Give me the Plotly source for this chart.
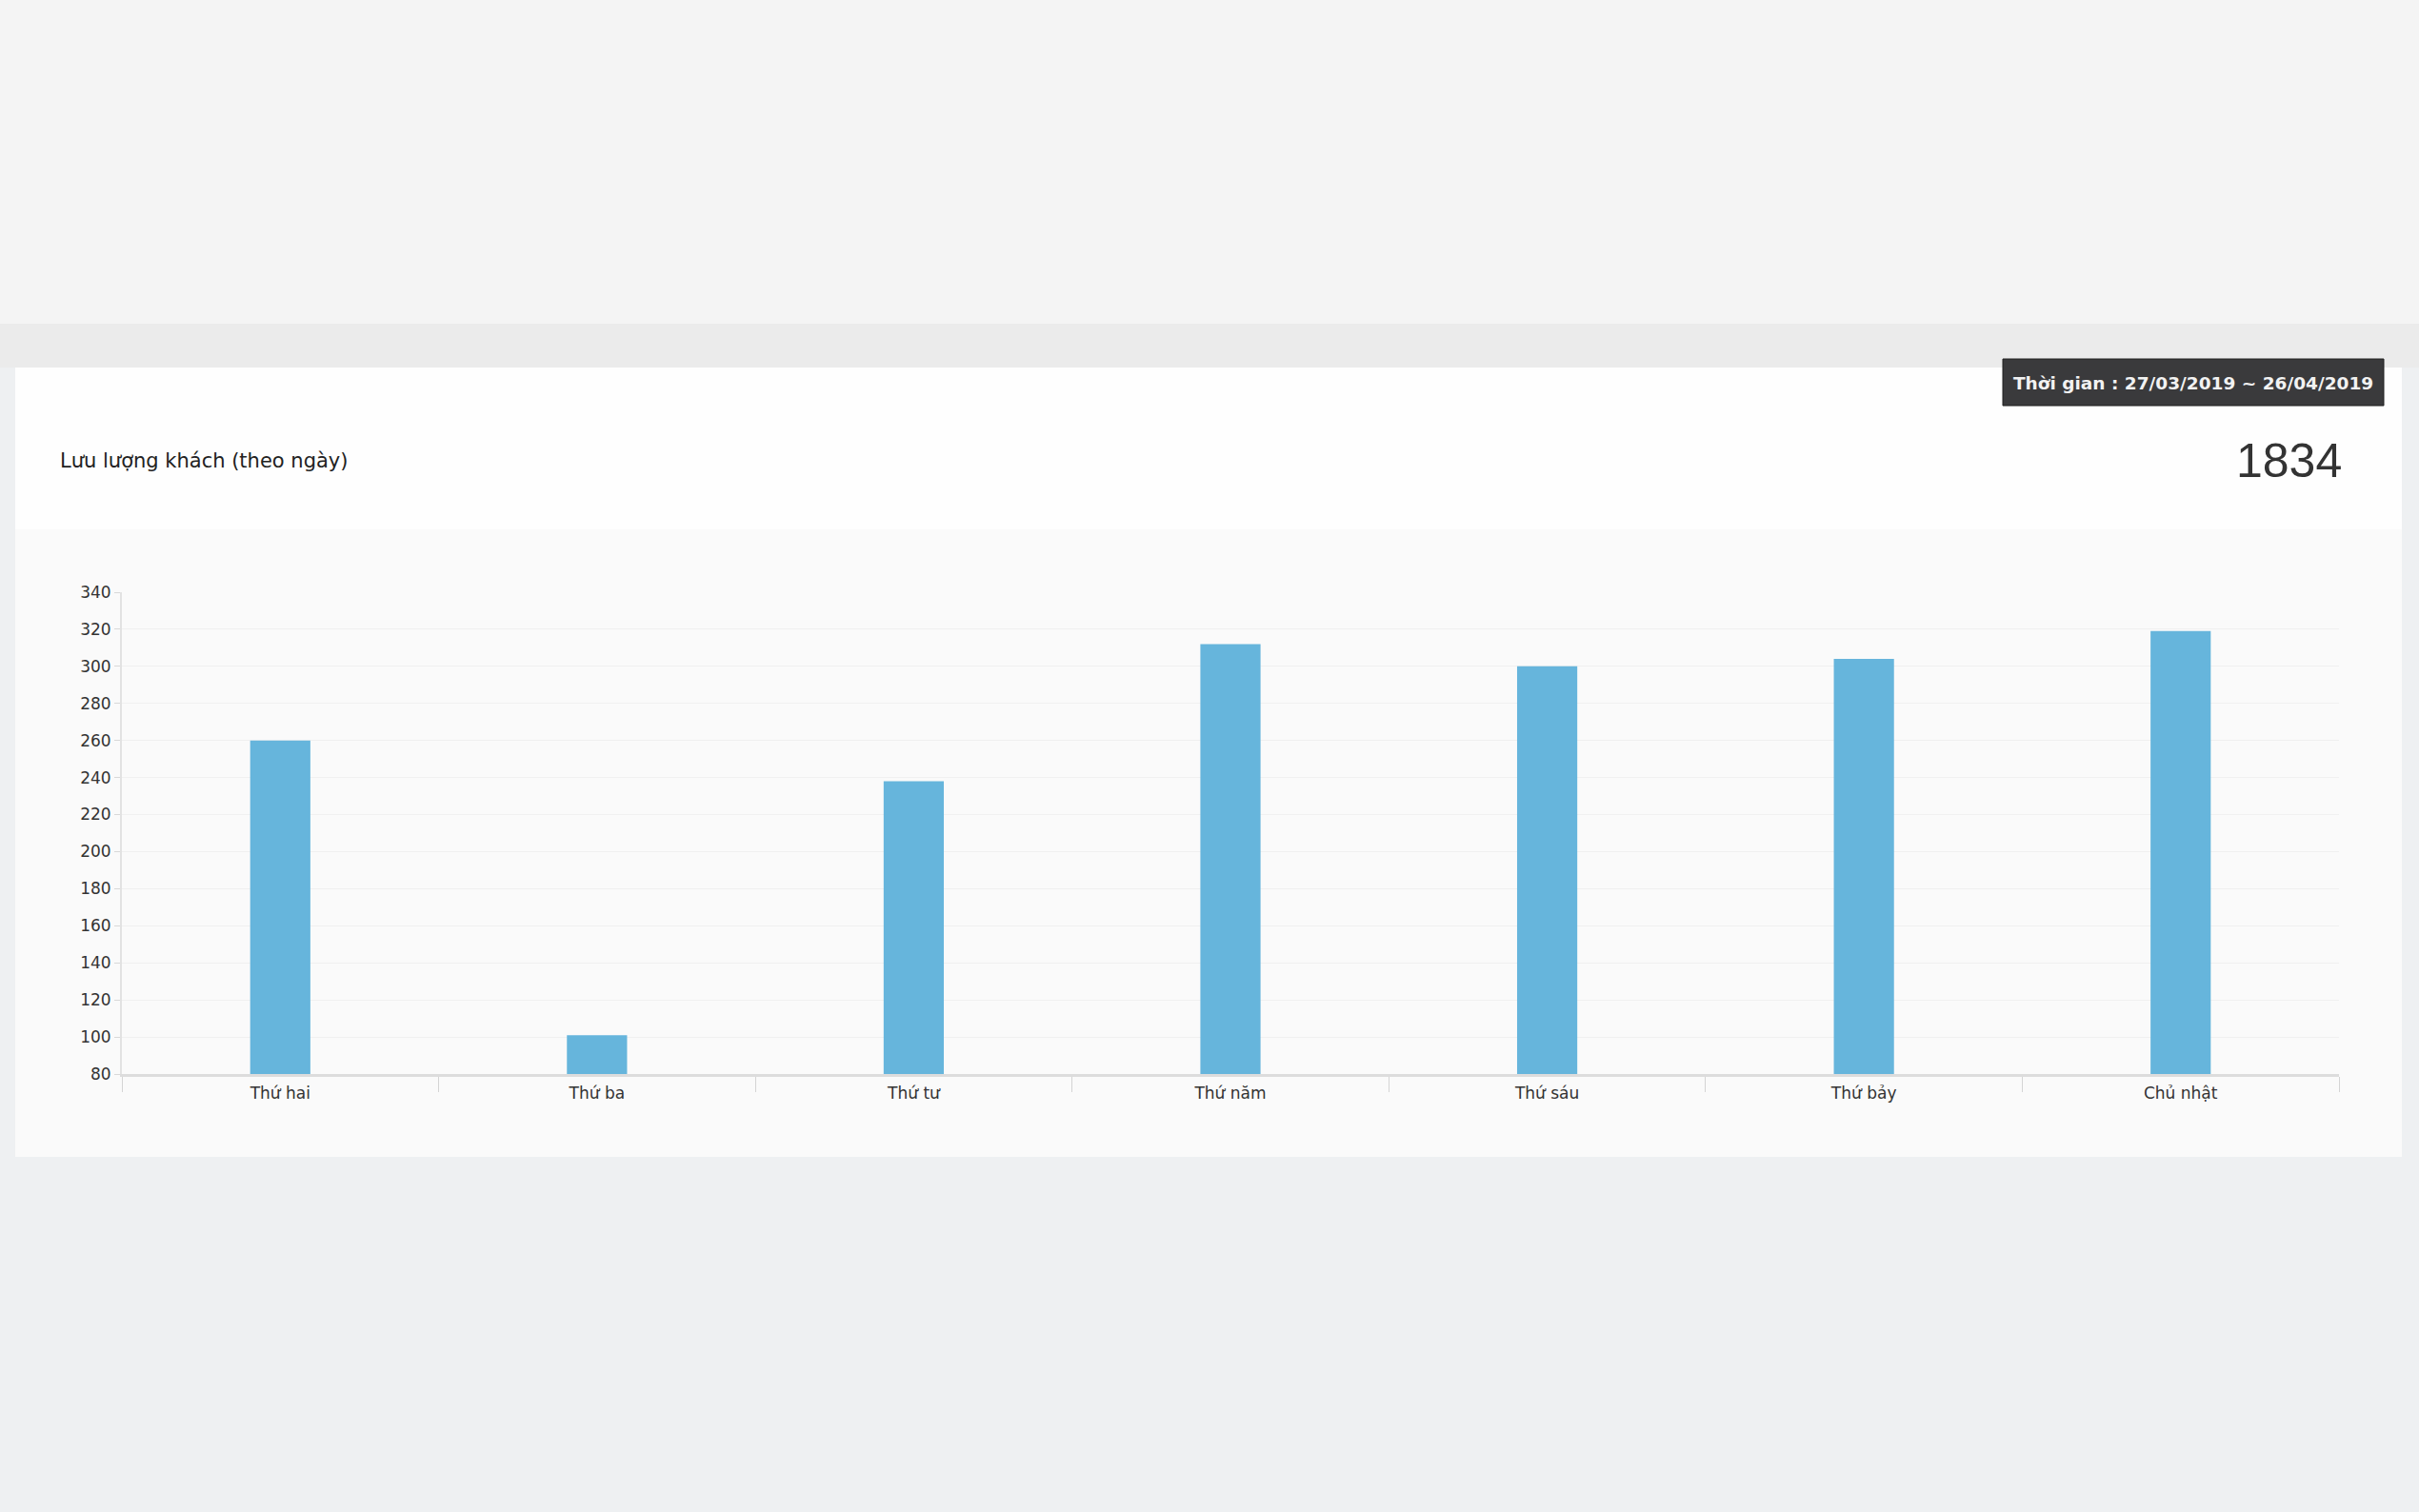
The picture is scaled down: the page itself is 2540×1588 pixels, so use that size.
import plotly.graph_objects as go

# daily visitor flow, by weekday
days = ["Thứ hai", "Thứ ba", "Thứ tư", "Thứ năm", "Thứ sáu", "Thứ bảy", "Chủ nhật"]
visitors = [260, 101, 238, 312, 300, 304, 319]
y_ticks = list(range(80, 341, 20))

title_text = "Lưu lượng khách (theo ngày)"
total_text = "1834"
period_text = "Thời gian : 27/03/2019 ~ 26/04/2019"

W, H = 2540, 1588
L, R, T, B = 128, 84, 622, 460
PW, PH = W - L - R, H - T - B


def px(x):
    return (x - L) / PW


def py(y):
    return 1 - (y - T) / PH


def rect(x0, y0, x1, y1, fill, line=None):
    return dict(type="rect", xref="paper", yref="paper", layer="below",
                x0=px(x0), x1=px(x1), y0=py(y1), y1=py(y0),
                fillcolor=fill, line=dict(width=1 if line else 0, color=line or fill))


fig = go.Figure()
fig.add_trace(go.Bar(x=days, y=visitors, marker=dict(color="#66b5dc", line=dict(width=0)),
                     hoverinfo="x+y"))

shapes = [
    rect(0, 0, W, 340, "#f4f4f4"),
    rect(0, 340, W, 386, "#ebebeb"),
    rect(0, 1215, W, H, "#eef0f2"),
    rect(16, 386, 2522, 556, "#fefefe"),
    rect(16, 556, 2522, 1215, "#fafafa"),
    rect(2103, 377, 2503, 426, "#3a3a3c", "#1e1e1e"),
]

annotations = [
    dict(text=title_text, xref="paper", yref="paper", x=px(61), y=py(484),
         xanchor="left", yanchor="middle", showarrow=False,
         font=dict(family="DejaVu Sans", size=21, color="#222")),
    dict(text=total_text, xref="paper", yref="paper", x=px(2461), y=py(484),
         xanchor="right", yanchor="middle", showarrow=False,
         font=dict(family="Liberation Sans", size=50, color="#333")),
    dict(text="<b>" + period_text + "</b>", xref="paper", yref="paper", x=px(2303), y=py(402),
         xanchor="center", yanchor="middle", showarrow=False,
         font=dict(family="DejaVu Sans", size=18.5, color="#f2f2f2")),
]

fig.update_layout(
    width=W, height=H,
    margin=dict(l=L, r=R, t=T, b=B, pad=0),
    paper_bgcolor="#eef0f2",
    plot_bgcolor="rgba(0,0,0,0)",
    bargap=0.81,
    showlegend=False,
    shapes=shapes,
    annotations=annotations,
    font=dict(family="DejaVu Sans", size=17, color="#333"),
)

fig.update_xaxes(
    type="category", tickson="boundaries", ticks="outside", ticklen=16, tickcolor="#d4d4d4",
    showline=True, linecolor="#dcdcdc", linewidth=3, showgrid=False,
    tickfont=dict(family="DejaVu Sans", size=17, color="#333"), fixedrange=True,
    ticklabelstandoff=3,
)
fig.update_yaxes(
    range=[80, 340], tickvals=y_ticks, ticks="outside", ticklen=6, tickcolor="#d8d8d8",
    showline=True, linecolor="#e2e2e2", linewidth=2,
    showgrid=True, gridcolor="#f0f0f0", gridwidth=1, zeroline=False,
    tickfont=dict(family="DejaVu Sans", size=17, color="#333"), fixedrange=True,
)

# page body has a default 8px margin; drop it so the figure sits at 0,0
fig.write_html("out.html", config={"displayModeBar": False},
               post_script="document.body.style.margin='0';")
